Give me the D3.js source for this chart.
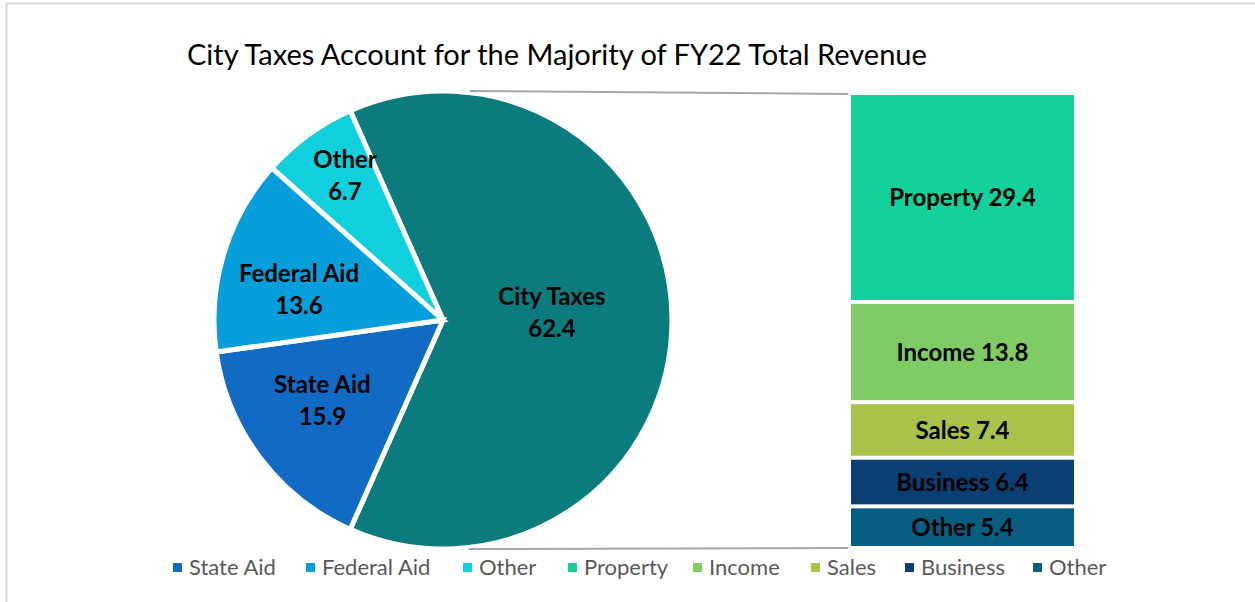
<!DOCTYPE html>
<html>
<head>
<meta charset="utf-8">
<script src="https://cdn.jsdelivr.net/npm/d3@7"></script>
<style>
  body { margin: 0; background: #fff; }
  svg { display: block; font-family: Lato, "Open Sans", sans-serif; }
</style>
</head>
<body>
<div id="container"></div>
<script>
/* CONSTANTS AND GLOBALS */
const width = 1255,
    height = 602

// DATA
const pieLabels = ["City Taxes", "State Aid", "Federal Aid", "Other"]
const pieValues = [62.4, 15.9, 13.6, 6.7]
const pieColors = ["#0B7B7E", "#116BC4", "#069FDB", "#0FD0DC"]

const barLabels = ["Property", "Income", "Sales", "Business", "Other"]
const barValues = [29.4, 13.8, 7.4, 6.4, 5.4]
const barColors = ["#13D19B", "#7ECC63", "#A8C24A", "#0B3E72", "#075E80"]

const legendLabels = ["State Aid", "Federal Aid", "Other", "Property", "Income", "Sales", "Business", "Other"]
const legendColors = ["#116BC4", "#069FDB", "#0FD0DC", "#13D19B", "#7ECC63", "#A8C24A", "#0B3E72", "#075E80"]

const pieData = pieLabels.map((d, i) => ({ label: d, value: pieValues[i], color: pieColors[i] }))
const barData = barLabels.map((d, i) => ({ label: d, value: barValues[i], color: barColors[i] }))

//SVG
const svg = d3.select("#container")
    .append("svg")
    .attr("width", width)
    .attr("height", height)

// chart border
svg.append("rect")
    .attr("x", 6.5)
    .attr("y", 3.5)
    .attr("width", 1260)
    .attr("height", 620)
    .attr("fill", "none")
    .attr("stroke", "#d9d9d9")
    .attr("stroke-width", 2)

// TITLE
svg.append("text")
    .attr("x", 187)
    .attr("y", 65)
    .style("font-size", "29px")
    .attr("fill", "#000")
    .text("City Taxes Account for the Majority of FY22 Total Revenue")

// PIE ==================================================
const cx = 443, cy = 320, r = 229
const total = d3.sum(pieValues)
const cityAngle = pieValues[0] / total * 2 * Math.PI
// the combined slice is centred at 3 o'clock
const startAngle = Math.PI / 2 - cityAngle / 2

const pie = d3.pie()
    .sort(null)
    .value(d => d.value)
    .startAngle(startAngle)
    .endAngle(startAngle + 2 * Math.PI)

const arc = d3.arc().innerRadius(0).outerRadius(r)
const arcs = pie(pieData)

const pieG = svg.append("g").attr("transform", `translate(${cx},${cy})`)

pieG.selectAll("path")
    .data(arcs)
    .join("path")
    .attr("d", arc)
    .attr("fill", d => d.data.color)
    .attr("stroke", "#fff")
    .attr("stroke-width", 5)
    .attr("stroke-linejoin", "miter")

// label distance as fraction of radius, plus a small vertical nudge
const labelFrac = [0.476, 0.66, 0.657, 0.726]
const labelNudge = [-8, -11, 13, -10]
pieG.selectAll("text.slice")
    .data(arcs)
    .join("text")
    .attr("class", "slice")
    .attr("text-anchor", "middle")
    .style("font-size", "24px")
    .style("font-weight", "bold")
    .attr("fill", "#000")
    .each(function (d, i) {
        const a = (d.startAngle + d.endAngle) / 2
        const lr = r * labelFrac[i]
        const x = Math.sin(a) * lr
        const y = -Math.cos(a) * lr + labelNudge[i]
        const t = d3.select(this)
        t.append("tspan").attr("x", x).attr("y", y - 7.5).text(d.data.label)
        t.append("tspan").attr("x", x).attr("y", y + 24.5).text(d.data.value)
    })

// BAR ==================================================
const barX = 851, barW = 223, barTop = 95, barBottom = 546, gap = 4
const yScale = d3.scaleLinear()
    .domain([0, d3.sum(barValues)])
    .range([0, barBottom - barTop - gap * (barData.length - 1)])

let acc = 0
barData.forEach((d, i) => {
    d.y0 = barTop + yScale(acc) + gap * i
    d.h = yScale(d.value)
    acc += d.value
})

svg.selectAll("rect.bar")
    .data(barData)
    .join("rect")
    .attr("class", "bar")
    .attr("x", barX)
    .attr("y", d => d.y0)
    .attr("width", barW)
    .attr("height", d => d.h)
    .attr("fill", d => d.color)

svg.selectAll("text.bar")
    .data(barData)
    .join("text")
    .attr("class", "bar")
    .attr("x", barX + barW / 2)
    .attr("y", d => d.y0 + d.h / 2)
    .attr("dy", "0.36em")
    .attr("text-anchor", "middle")
    .style("font-size", "24px")
    .style("font-weight", "bold")
    .attr("fill", "#000")
    .text(d => d.label + " " + d.value)

// CONNECTOR LINES (tangent from bar corners to the pie)
function tangentPoint(px, py, upper) {
    const dx = px - cx, dy = py - cy
    const d = Math.sqrt(dx * dx + dy * dy)
    const base = Math.atan2(dy, dx)
    const off = Math.acos(r / d)
    const a = upper ? base - off : base + off
    return [cx + r * Math.cos(a), cy + r * Math.sin(a)]
}
const topPt = tangentPoint(barX - 3, barTop - 1, true)
const botPt = tangentPoint(barX - 3, barBottom + 2, false)
const connectors = [[topPt, [barX - 3, barTop - 1]], [botPt, [barX - 3, barBottom + 2]]]

svg.selectAll("line.conn")
    .data(connectors)
    .join("line")
    .attr("class", "conn")
    .attr("x1", d => d[0][0] + 25)
    .attr("y1", d => d[0][1])
    .attr("x2", d => d[1][0])
    .attr("y2", d => d[1][1])
    .attr("stroke", "#a6a6a6")
    .attr("stroke-width", 2)

// LEGEND ===============================================
const legendX = [173, 306, 463, 568, 693, 811, 905, 1033]
const legend = svg.append("g")
    .selectAll("g")
    .data(legendLabels)
    .join("g")
    .attr("transform", (d, i) => `translate(${legendX[i]},567)`)

legend.append("rect")
    .attr("x", 0)
    .attr("y", -4)
    .attr("width", 9)
    .attr("height", 9)
    .attr("fill", (d, i) => legendColors[i])

legend.append("text")
    .attr("x", 16)
    .attr("dy", "0.36em")
    .style("font-size", "22px")
    .attr("fill", "#595959")
    .text(d => d)
</script>
</body>
</html>
